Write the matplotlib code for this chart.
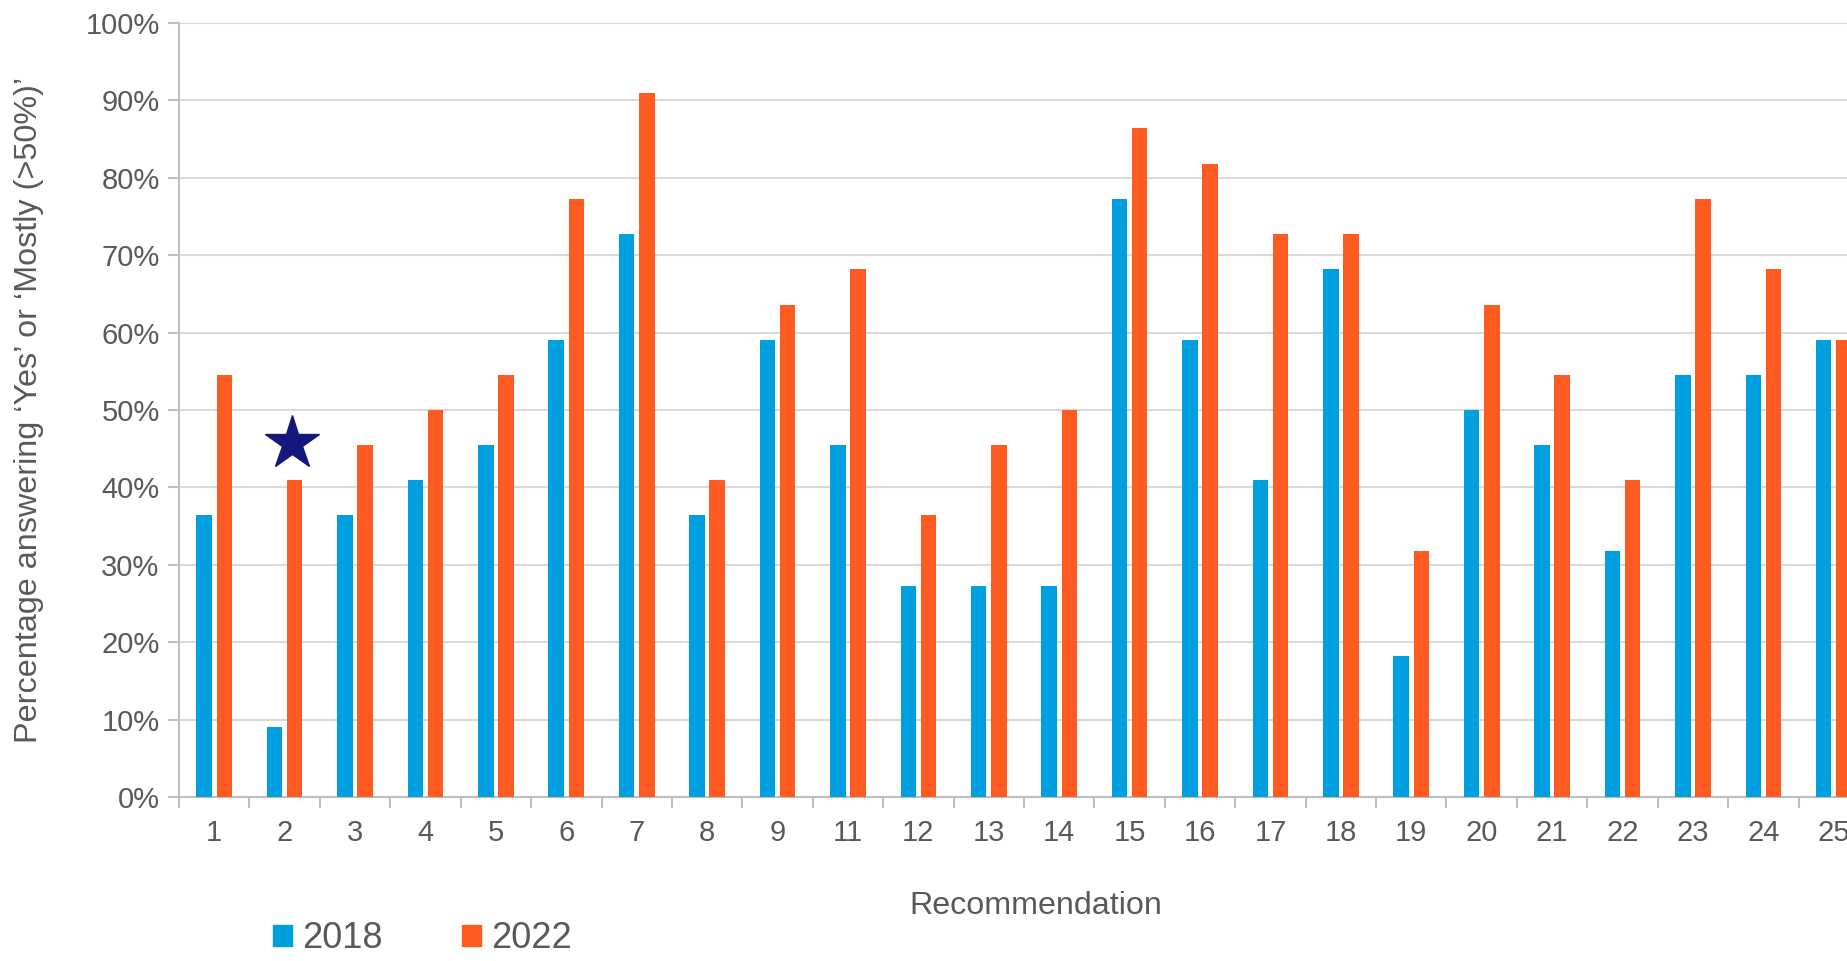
import matplotlib
matplotlib.use("Agg")
import matplotlib.pyplot as plt
import numpy as np
from matplotlib.patches import Patch

plt.rcParams['font.family'] = ['Liberation Sans', 'DejaVu Sans']

categories = ['1', '2', '3', '4', '5', '6', '7', '8', '9', '11', '12', '13',
              '14', '15', '16', '17', '18', '19', '20', '21', '22', '23', '24', '25']
values_2018 = [36.4, 9.1, 36.4, 40.9, 45.5, 59.1, 72.7, 36.4, 59.1, 45.5, 27.3, 27.3,
               27.3, 77.3, 59.1, 40.9, 68.2, 18.2, 50.0, 45.5, 31.8, 54.5, 54.5, 59.1]
values_2022 = [54.5, 40.9, 45.5, 50.0, 54.5, 77.3, 90.9, 40.9, 63.6, 68.2, 36.4, 45.5,
               50.0, 86.4, 81.8, 72.7, 72.7, 31.8, 63.6, 54.5, 40.9, 77.3, 68.2, 59.1]
series_labels = ['2018', '2022']
star_category = '2'
star_value = 45.7

c2018 = '#009FDF'
c2022 = '#FF5A1F'
txt = '#595959'
axc = '#BFBFBF'

W, H = 1847, 961
fig = plt.figure(figsize=(W / 100, H / 100), dpi=100)
ax = fig.add_axes([179 / W, 1 - 797 / H, (1869 - 179) / W, (797 - 23) / H])

x = np.arange(len(categories))
bw = 0.22
off = 0.143
ax.bar(x - off, values_2018, bw, color=c2018, zorder=3, linewidth=0)
ax.bar(x + off, values_2022, bw, color=c2022, zorder=3, linewidth=0)

si = categories.index(star_category)
ax.plot([si + 0.10], [star_value], marker='*', markersize=41, color='#14187A',
        zorder=4, clip_on=False)

ax.set_xlim(-0.5, len(categories) - 0.5)
ax.set_ylim(0, 100)
ax.set_yticks(np.arange(0, 101, 10))
ax.set_yticklabels([f'{v}%' for v in range(0, 101, 10)])
ax.yaxis.grid(True, color='#D9D9D9', linewidth=1.5, zorder=0)
ax.set_axisbelow(True)

ax.set_xticks(x)
ax.set_xticklabels(categories)
ax.set_xticks(np.arange(-0.5, len(categories), 1), minor=True)
ax.tick_params(axis='x', which='major', length=0, pad=16, labelsize=21, labelcolor=txt)
ax.tick_params(axis='x', which='minor', length=8, width=1.5, color=axc, direction='out')
ax.tick_params(axis='y', length=8, width=1.5, color=axc, pad=6, labelsize=21, labelcolor=txt)

for s in ['top', 'right']:
    ax.spines[s].set_visible(False)
for s in ['left', 'bottom']:
    ax.spines[s].set_color(axc)
    ax.spines[s].set_linewidth(1.5)

ax.set_xlabel('Recommendation', fontsize=23.2, color=txt)
ax.xaxis.set_label_coords((1036 - 179) / (1869 - 179), -(906 - 797) / (797 - 23),
                          transform=ax.transAxes)
ax.xaxis.label.set_verticalalignment('center')

ax.set_ylabel('Percentage answering \u2018Yes\u2019 or \u2018Mostly (>50%)\u2019',
              fontsize=23.3, color=txt)
ax.yaxis.set_label_coords(-(179 - 29) / (1869 - 179), 0.5, transform=ax.transAxes)
ax.yaxis.label.set_verticalalignment('center')

handles = [Patch(color=c2018, label=series_labels[0]),
           Patch(color=c2022, label=series_labels[1])]
fig.legend(handles=handles, loc='center left', bbox_to_anchor=(273 / W, 1 - 939 / H),
           ncol=2, frameon=False, fontsize=26, labelcolor=txt,
           handlelength=0.53, handleheight=0.53, handletextpad=0.27,
           columnspacing=2.2, borderpad=0, borderaxespad=0)

fig.savefig('out.png', dpi=100)
